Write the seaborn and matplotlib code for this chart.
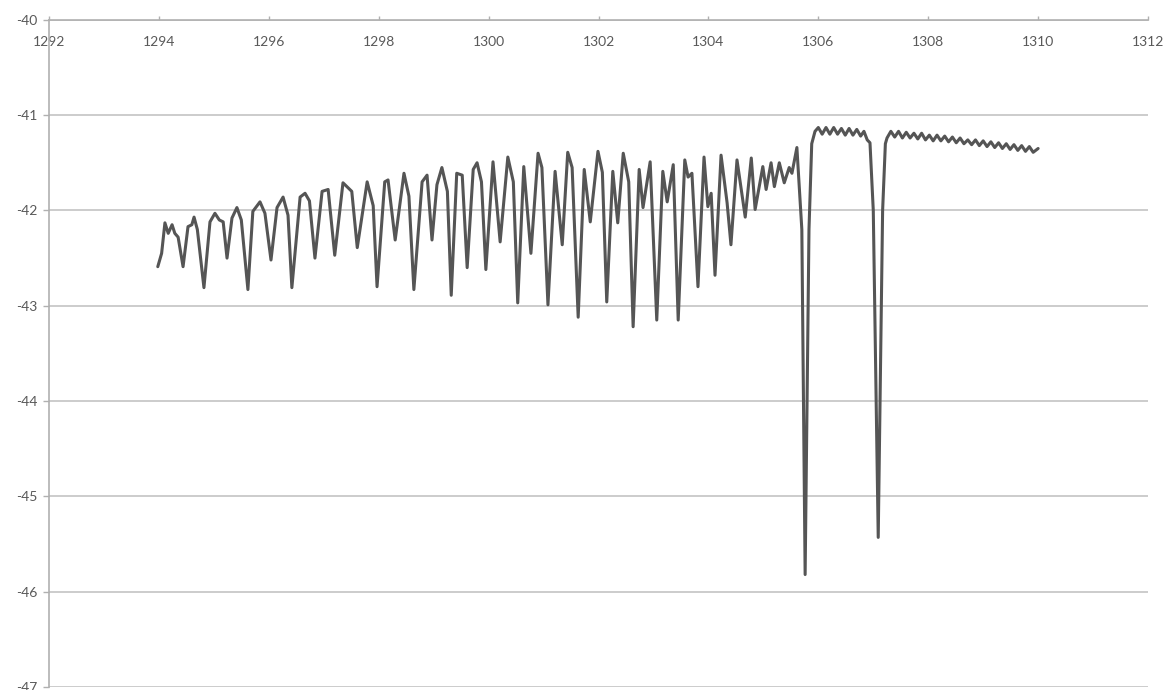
import pandas as pd
import matplotlib.pyplot as plt
import seaborn as sns

# wavelength (nm) and power (dBm)
wavelength = [
    1293.98, 1294.05, 1294.11, 1294.17, 1294.24, 1294.29, 1294.35, 1294.44, 1294.53, 1294.60,
    1294.64, 1294.70, 1294.82, 1294.93, 1295.02, 1295.10, 1295.17, 1295.24, 1295.33, 1295.42,
    1295.50, 1295.62, 1295.71, 1295.84, 1295.93, 1296.04, 1296.15, 1296.26, 1296.35, 1296.42,
    1296.57, 1296.66, 1296.74, 1296.84, 1296.97, 1297.08, 1297.20, 1297.35, 1297.51, 1297.61,
    1297.79, 1297.90, 1297.97, 1298.11, 1298.17, 1298.30, 1298.46, 1298.55, 1298.64, 1298.79,
    1298.88, 1298.97, 1299.06, 1299.15, 1299.25, 1299.32, 1299.42, 1299.52, 1299.61, 1299.72,
    1299.79, 1299.87, 1299.95, 1300.08, 1300.21, 1300.35, 1300.45, 1300.53, 1300.64, 1300.77,
    1300.90, 1300.97, 1301.08, 1301.21, 1301.34, 1301.44, 1301.52, 1301.63, 1301.74, 1301.85,
    1301.99, 1302.07, 1302.15, 1302.26, 1302.35, 1302.45, 1302.55, 1302.63, 1302.74, 1302.81,
    1302.94, 1303.06, 1303.17, 1303.25, 1303.36, 1303.45, 1303.57, 1303.63, 1303.70, 1303.81,
    1303.92, 1303.99, 1304.05, 1304.12, 1304.23, 1304.34, 1304.41, 1304.52, 1304.67, 1304.78,
    1304.85, 1304.99, 1305.05, 1305.14, 1305.20, 1305.29, 1305.38, 1305.47, 1305.52, 1305.61,
    1305.70, 1305.76, 1305.83, 1305.88, 1305.94, 1306.00, 1306.07, 1306.14, 1306.21, 1306.28,
    1306.35, 1306.42, 1306.49, 1306.56, 1306.63, 1306.70, 1306.77, 1306.83, 1306.89, 1306.94,
    1307.00, 1307.09, 1307.17, 1307.22, 1307.25, 1307.32, 1307.39, 1307.46, 1307.53, 1307.60,
    1307.67, 1307.74, 1307.81, 1307.88, 1307.95, 1308.02, 1308.09, 1308.16, 1308.23, 1308.30,
    1308.37, 1308.44, 1308.51, 1308.58, 1308.65, 1308.72, 1308.79, 1308.86, 1308.93, 1309.00,
    1309.07, 1309.14, 1309.21, 1309.28, 1309.35, 1309.42, 1309.49, 1309.56, 1309.63, 1309.70,
    1309.77, 1309.84, 1309.91, 1310.00,
]
power = [
    -42.59, -42.45, -42.13, -42.24, -42.15, -42.24, -42.28, -42.59, -42.17, -42.15,
    -42.07, -42.20, -42.81, -42.12, -42.03, -42.10, -42.12, -42.50, -42.08, -41.97,
    -42.10, -42.83, -42.01, -41.91, -42.03, -42.52, -41.97, -41.86, -42.05, -42.81,
    -41.86, -41.82, -41.90, -42.50, -41.80, -41.78, -42.47, -41.71, -41.80, -42.39,
    -41.70, -41.95, -42.80, -41.70, -41.68, -42.31, -41.61, -41.85, -42.83, -41.70,
    -41.63, -42.31, -41.73, -41.55, -41.80, -42.89, -41.61, -41.63, -42.60, -41.57,
    -41.50, -41.70, -42.62, -41.49, -42.33, -41.44, -41.70, -42.97, -41.54, -42.45,
    -41.40, -41.55, -42.99, -41.59, -42.36, -41.39, -41.55, -43.12, -41.57, -42.12,
    -41.38, -41.60, -42.96, -41.59, -42.13, -41.40, -41.70, -43.22, -41.57, -41.97,
    -41.49, -43.15, -41.59, -41.91, -41.52, -43.15, -41.47, -41.65, -41.61, -42.80,
    -41.44, -41.96, -41.82, -42.68, -41.42, -41.92, -42.36, -41.47, -42.07, -41.45,
    -41.99, -41.54, -41.78, -41.50, -41.75, -41.50, -41.71, -41.55, -41.61, -41.34,
    -42.20, -45.82, -42.20, -41.30, -41.17, -41.13, -41.20, -41.13, -41.20, -41.13,
    -41.20, -41.14, -41.21, -41.14, -41.21, -41.15, -41.22, -41.17, -41.26, -41.29,
    -42.00, -45.43, -42.00, -41.30, -41.24, -41.17, -41.23, -41.17, -41.24, -41.18,
    -41.24, -41.19, -41.25, -41.19, -41.26, -41.21, -41.27, -41.21, -41.27, -41.22,
    -41.28, -41.23, -41.29, -41.24, -41.30, -41.26, -41.31, -41.26, -41.32, -41.27,
    -41.33, -41.28, -41.34, -41.29, -41.35, -41.30, -41.36, -41.31, -41.37, -41.32,
    -41.38, -41.33, -41.39, -41.35,
]
x_ticks = list(range(1292, 1313, 2))
y_ticks = list(range(-47, -39))

df = pd.DataFrame({"wavelength": wavelength, "power": power})

sns.set_style("white")
plt.rcParams["font.family"] = ["Lato", "DejaVu Sans"]
plt.rcParams["axes.unicode_minus"] = False

fig = plt.figure(figsize=(11.66, 6.9), dpi=100)
ax = fig.add_axes([0.042, 0.0043, 0.9426, 0.967])

sns.lineplot(data=df, x="wavelength", y="power", ax=ax, sort=False,
             estimator=None, color="#555555", linewidth=2.2,
             solid_joinstyle="round", solid_capstyle="round")

ax.set_xlim(1292, 1312)
ax.set_ylim(-47, -40)
ax.set_xticks(x_ticks)
ax.set_yticks(y_ticks)
ax.set_xlabel("")
ax.set_ylabel("")

grid_c = "#c4c4c4"
ax.yaxis.grid(True, color=grid_c, linewidth=1.2)
ax.xaxis.grid(False)
for side in ["right", "bottom"]:
    ax.spines[side].set_visible(False)
for side in ["top", "left"]:
    ax.spines[side].set_color("#b0b0b0")
    ax.spines[side].set_linewidth(1.2)

# x axis sits at the top (-40) with labels hanging below it
ax.tick_params(axis="x", bottom=False, labelbottom=False, top=True, labeltop=True,
               direction="out", length=3, width=1, color="#b0b0b0",
               pad=-23, labelsize=10, labelcolor="#595959")
ax.tick_params(axis="y", left=True, direction="out", length=4, width=1,
               color="#b0b0b0", pad=4, labelsize=10, labelcolor="#595959")

fig.savefig("out.png", dpi=100)
